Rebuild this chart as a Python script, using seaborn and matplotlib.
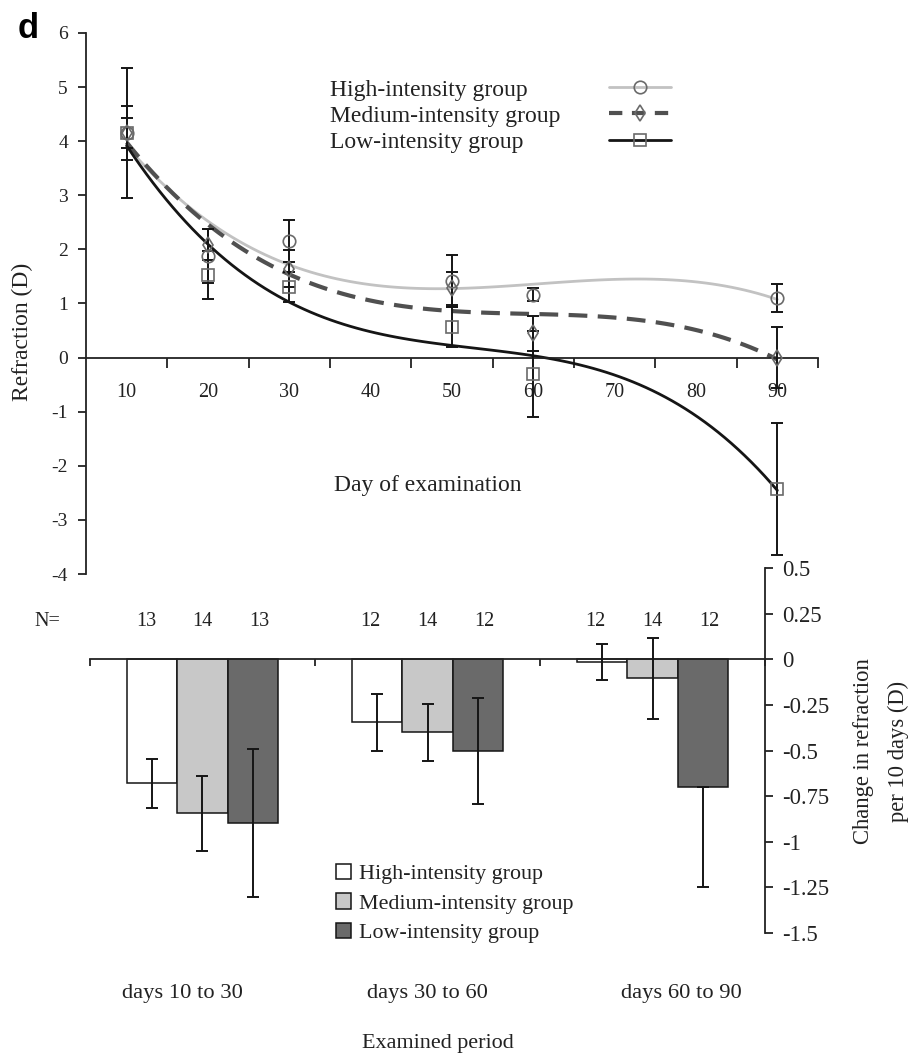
import numpy as np
import pandas as pd
import matplotlib
matplotlib.use("Agg")
import matplotlib.pyplot as plt
from matplotlib.lines import Line2D
import seaborn as sns

# ---- refraction by day of examination (group means and error half-widths) ----
days = [10, 20, 30, 50, 60, 90]
high_refr = [4.15, 1.87, 2.16, 1.41, 1.16, 1.10]
high_refr_err = [0.50, 0.50, 0.39, 0.48, 0.12, 0.26]
med_refr = [4.15, 2.09, 1.64, 1.28, 0.45, 0.00]
med_refr_err = [0.27, 0.28, 0.34, 0.31, 0.32, 0.57]
low_refr = [4.15, 1.53, 1.31, 0.57, -0.30, -2.42]
low_refr_err = [1.20, 0.44, 0.28, 0.37, 0.79, 1.22]

# ---- change in refraction per 10 days, by examined period ----
groups = ["High-intensity group", "Medium-intensity group", "Low-intensity group"]
periods = ["days 10 to 30", "days 30 to 60", "days 60 to 90"]
high_change = [-0.68, -0.345, -0.015]
high_change_err = [0.135, 0.155, 0.10]
med_change = [-0.845, -0.40, -0.105]
med_change_err = [0.205, 0.155, 0.22]
low_change = [-0.895, -0.505, -0.70]
low_change_err = [0.405, 0.29, 0.55]
low_change_err_up = [0.405, 0.29, 0.0]
n_high = [13, 12, 12]
n_med = [14, 14, 14]
n_low = [13, 12, 12]

sns.set_theme(style="ticks")
plt.rcParams["font.family"] = ["Liberation Serif", "DejaVu Serif"]
plt.rcParams["text.color"] = "#222222"
plt.rcParams["axes.edgecolor"] = "#222222"
plt.rcParams["xtick.color"] = "#222222"
plt.rcParams["ytick.color"] = "#222222"

TFS = 14.5
fig = plt.figure(figsize=(9.09, 10.54), dpi=100)
ax1 = fig.add_axes([0.0946, 0.4554, 0.8053, 0.5133])
ax2 = fig.add_axes([0.099, 0.1148, 0.7426, 0.3463])

# ---------------- top panel: refraction over time ----------------
series = [
    (high_refr, high_refr_err, dict(color="#c2c2c2", lw=2.0, ls="-"), "o", "-"),
    (med_refr, med_refr_err, dict(color="#505050", lw=3.0, ls=(0, (4.5, 2.5))), "d",
     (0, (3.2, 2.3))),
    (low_refr, low_refr_err, dict(color="#151515", lw=2.0, ls="-"), "s", "-"),
]
handles = []
for (vals, errs, lkw, mk, hls), name in zip(series, groups):
    # cubic trend line through the group means
    sns.regplot(x=np.array(days, float), y=np.array(vals), order=3, ci=None,
                scatter=False, truncate=True, ax=ax1, line_kws=lkw)
    ax1.errorbar(days, vals, yerr=errs, fmt="none", ecolor="#151515",
                 elinewidth=1.4, capsize=4, capthick=1.4, zorder=3)
    ax1.plot(days, vals, ls="none", marker=mk, ms=9 if mk != "d" else 8,
             mfc="none", mec="#6a6a6a", mew=1.2, zorder=4)
    handles.append(Line2D([], [], marker=mk, ms=9 if mk != "d" else 8,
                          mfc="none", mec="#6a6a6a", mew=1.2,
                          color=lkw["color"], lw=lkw["lw"], ls=hls))

ax1.set_xlim(5, 95)
ax1.set_ylim(-4, 6)
ax1.set_xlabel("")
ax1.set_ylabel("")
for s in ("top", "right"):
    ax1.spines[s].set_visible(False)
ax1.spines["bottom"].set_position(("data", 0))
ax1.spines["bottom"].set_linewidth(1.3)
ax1.spines["left"].set_linewidth(1.3)
ax1.set_xticks(np.arange(15, 96, 10))
ax1.set_xticklabels([])
ax1.set_xticks(np.arange(10, 91, 10), minor=True)
ax1.set_xticklabels([str(d) for d in range(10, 91, 10)], minor=True, fontsize=TFS)
ax1.tick_params(axis="x", which="major", direction="out", length=7, width=1.3)
ax1.tick_params(axis="x", which="minor", length=0, pad=18)
ax1.set_yticks(np.arange(-4, 7, 1))
ax1.set_yticklabels([str(v) for v in range(-4, 7)], fontsize=14)
ax1.tick_params(axis="y", direction="out", length=6, width=1.3, pad=7)

ax1.text(0.467, 0.1645, "Day of examination", transform=ax1.transAxes,
         ha="center", va="center", fontsize=17)

# legend: left-aligned names, with the line samples in a column to their right
LFS = 17
blank = [Line2D([], [], ls="none") for _ in groups]
names_leg = ax1.legend(handles=blank, labels=groups, loc="upper left",
                       bbox_to_anchor=(0.333, 0.915), frameon=False,
                       handlelength=0, handletextpad=0, labelspacing=0.2,
                       borderaxespad=0, borderpad=0, fontsize=LFS)
ax1.add_artist(names_leg)
ax1.legend(handles=handles, labels=[" "] * 3, loc="upper left",
           bbox_to_anchor=(0.715, 0.915), frameon=False,
           handlelength=2.6, handletextpad=0, labelspacing=0.2,
           borderaxespad=0, borderpad=0, fontsize=LFS)

fig.text(22 / 909, 1 - 332 / 1054, "Refraction (D)", rotation=90,
         ha="center", va="center", fontsize=17)
fig.text(28 / 909, 1 - 28 / 1054, "d", family="Liberation Sans",
         fontweight="bold", fontsize=25, ha="center", va="center", color="black")

# ---------------- bottom panel: change per 10 days ----------------
df = pd.DataFrame({
    "period": periods * 3,
    "group": [g for g in groups for _ in periods],
    "change": high_change + med_change + low_change,
})
sns.barplot(data=df, x="period", y="change", hue="group", hue_order=groups,
            order=periods, palette=["#ffffff", "#c8c8c8", "#6a6a6a"],
            saturation=1, width=0.675, edgecolor="#151515", linewidth=1.1,
            errorbar=None, ax=ax2)

err_lo = [high_change_err, med_change_err, low_change_err]
err_hi = [high_change_err, med_change_err, low_change_err_up]
counts = [n_high, n_med, n_low]
for cont, lo, hi, ns in zip(ax2.containers, err_lo, err_hi, counts):
    xs = [b.get_x() + b.get_width() / 2 for b in cont]
    ys = [b.get_height() for b in cont]
    ax2.errorbar(xs, ys, yerr=[lo, hi], fmt="none", ecolor="#151515",
                 elinewidth=1.4, capsize=4, capthick=1.4, zorder=3)
    for i, (x, n) in enumerate(zip(xs, ns)):
        xc = i + 1.12 * (x - i)
        ax2.text(xc, 0.205, str(n), ha="center", va="center", fontsize=TFS)
ax2.text(-0.69, 0.205, "N=", ha="center", va="center", fontsize=TFS, clip_on=False)

ax2.set_xlim(-0.5, 2.5)
ax2.set_ylim(-1.5, 0.5)
ax2.set_xlabel("")
ax2.set_ylabel("")
for s in ("top", "left"):
    ax2.spines[s].set_visible(False)
ax2.spines["right"].set_visible(True)
ax2.spines["right"].set_linewidth(1.3)
ax2.spines["bottom"].set_position(("data", 0))
ax2.spines["bottom"].set_linewidth(1.3)
ax2.set_xticks([-0.5, 0.5, 1.5, 2.5])
ax2.set_xticklabels([])
ax2.tick_params(axis="x", direction="out", length=5, width=1.3)
ax2.yaxis.tick_right()
yt = [0.5, 0.25, 0, -0.25, -0.5, -0.75, -1, -1.25, -1.5]
ax2.set_yticks(yt)
ax2.set_yticklabels(["0.5", "0.25", "0", "-0.25", "-0.5", "-0.75", "-1", "-1.25", "-1.5"],
                    fontsize=16.3)
ax2.tick_params(axis="y", direction="out", length=6, width=1.3, pad=6)

label_x = [-0.09, 1.0, 2.13]
for x, p in zip(label_x, periods):
    ax2.text(x, -0.167, p, transform=ax2.get_xaxis_transform(), ha="center",
             va="center", fontsize=16.2)
ax2.text(0.516, -0.302, "Examined period", transform=ax2.transAxes,
         ha="center", va="center", fontsize=15.9)

leg = ax2.legend(loc="upper left", bbox_to_anchor=(0.364, 0.19), frameon=False,
                 handlelength=0.7, handleheight=0.7, handletextpad=0.35,
                 labelspacing=0.42, borderaxespad=0, borderpad=0, fontsize=15.8)
for h in leg.legend_handles:
    h.set_edgecolor("#151515")
    h.set_linewidth(1.1)

fig.text(881 / 909, 1 - 751 / 1054, "Change in refraction\nper 10 days (D)",
         rotation=90, ha="center", va="center", fontsize=16.3, linespacing=1.8,
         multialignment="center")

fig.savefig("out.png", dpi=100, facecolor="white")
